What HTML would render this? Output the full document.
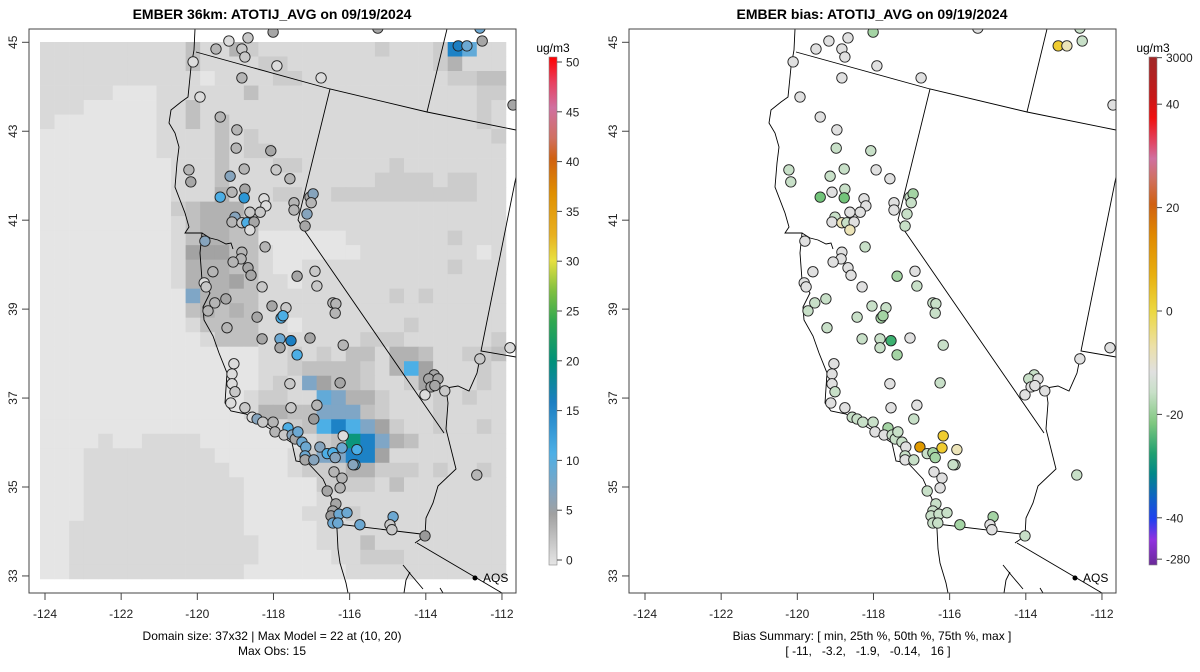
<!DOCTYPE html>
<html><head><meta charset="utf-8"><style>
body{margin:0;background:#fff}
svg{display:block;font-family:"Liberation Sans",Arial,sans-serif}
</style></head><body>
<svg id="chart" width="1200" height="672" viewBox="0 0 1200 672" xmlns="http://www.w3.org/2000/svg"></svg>
<script>
// ---- data ----
const gridRows = [
"11111111113114211111111211129711",
"11111111113111122111111111124111",
"11111111111011112211111111112233",
"11111000111111311111111111111122",
"11100000113111111111111111111121",
"10000000113131111111111111111121",
"00000000111131211111111111111112",
"00000000111131221111111111111111",
"00000000011131112211111121111111",
"00000000011131111111111222212211",
"00000000011141112211222222222211",
"00000000023444111111111111111111",
"00000000013443311111111111111111",
"00000000013443300000011111112111",
"00000000015553310000001111111101",
"00000000014443310011111111112111",
"00000000014445311011111111111111",
"00000000006443311111111121211111",
"00000000003434311111111111111111",
"00000000001333311011111112111111",
"00000000000133311111112221111112",
"00000000000000011212133144311223",
"00000000000000011233332148511121",
"00000000000000012165332112511121",
"00000000000000122117644211121211",
"00000000000000144336663211121111",
"00000000000000001238986521121121",
"000010011110000000123a9643111111",
"00011111111100000126699511111111",
"00011111111110000122244222121121",
"00011111111111000002222131111111",
"00011111111111000001111111111111",
"00011111111111000011121111111111",
"00111111111111000001111111111111",
"00111111111111100001113111111111",
"00111111111111100000112221111111",
"00111111111111000000011111111111"];
const stationLon = [-118.01,-115.26,-112.58,-119.17,-118.67,-119.51,-118.83,-118.75,-117.91,-116.75,-118.83,-120.11,-113.15,-112.92,-112.52,-111.71,-119.93,-119.40,-118.96,-118.98,-118.07,-120.22,-120.17,-119.14,-118.77,-117.93,-117.57,-119.40,-119.09,-118.75,-118.77,-118.25,-118.20,-118.35,-118.62,-119.01,-119.09,-118.83,-118.70,-118.51,-118.62,-117.46,-117.46,-117.04,-116.96,-117.01,-117.12,-117.17,-119.80,-118.83,-118.85,-119.06,-118.22,-118.67,-118.59,-119.59,-119.82,-119.77,-118.30,-117.38,-116.91,-116.86,-119.25,-119.54,-119.72,-118.04,-117.67,-116.44,-116.36,-116.38,-117.80,-117.75,-118.43,-119.22,-118.30,-117.83,-117.83,-117.54,-117.04,-116.17,-117.38,-111.79,-112.58,-119.04,-119.09,-119.09,-119.01,-119.12,-118.75,-117.57,-116.25,-117.54,-116.86,-116.94,-118.56,-118.43,-118.28,-118.01,-117.96,-117.62,-117.72,-117.51,-117.43,-117.36,-117.25,-117.15,-117.17,-117.17,-116.94,-116.78,-116.17,-116.20,-115.81,-116.59,-116.44,-116.38,-115.86,-115.91,-116.41,-116.20,-116.25,-116.59,-116.36,-116.44,-116.49,-116.28,-116.07,-116.44,-116.31,-115.73,-114.86,-114.94,-114.89,-114.02,-112.66,-114.02,-113.78,-113.92,-113.68,-113.86,-113.76,-113.50];
const stationLat = [45.23,45.32,45.32,45.03,45.10,44.85,44.85,44.67,44.47,44.20,44.20,44.56,44.92,44.92,45.03,43.59,43.77,43.32,43.03,42.62,42.56,42.13,41.86,41.99,42.15,42.13,41.93,41.52,41.63,41.70,41.50,41.48,41.32,41.18,41.18,41.07,40.96,40.94,40.94,40.96,40.78,41.39,41.23,41.52,41.59,41.39,41.14,40.87,40.53,40.28,40.13,40.06,40.40,39.93,39.76,39.84,39.59,39.50,39.50,39.74,39.85,39.52,39.23,39.14,38.96,39.07,39.03,39.14,39.12,38.91,38.80,38.85,38.82,38.58,38.33,38.33,38.13,38.29,38.35,38.19,37.97,38.13,37.88,37.77,37.54,37.32,37.14,36.89,36.78,37.32,37.34,36.78,36.84,36.53,36.57,36.53,36.46,36.46,36.24,36.33,36.17,36.17,36.08,36.24,36.01,35.90,35.70,35.61,35.61,35.90,36.15,35.88,35.84,35.75,35.77,35.66,35.50,35.50,35.34,35.20,34.98,34.91,34.62,34.46,34.35,34.39,34.42,34.19,34.19,34.15,34.33,34.15,34.04,33.90,35.27,37.07,37.52,37.43,37.43,37.25,37.28,37.16];
const obsValues = [4,4,8,1,2,3,2,2,1,1,3,1,15,8,4,4,1,3,3,3,4,3,4,7,3,2,3,12,3,4,13,1,1,2,2,7,3,2,12,4,1,3,3,4,6,3,7,4,6,3,3,3,3,4,4,3,1,2,2,4,2,2,4,3,3,4,2,3,3,3,12,11,4,3,4,8,4,15,4,3,12,1,2,1,1,1,2,1,2,2,4,2,3,5,1,7,2,3,3,10,2,7,4,9,9,8,8,4,6,6,1,8,10,10,10,7,10,6,3,3,3,4,4,4,5,8,8,8,8,8,8,2,2,5,3,1,4,4,4,4,4,2];
const biasValues = [-4,0,-3,0,0,0,0,0,0,0,0,0,12,3,-2,0,0,-1,0,-2,-2,-2,-3,-2,-2,-1,-1,-7,-1,-2,-8,-1,-1,-1,-1,-2,-1,3,-3,-1,4,-1,-1,-2,-4,-2,-2,-2,-1,-1,-1,-1,-2,-1,-1,-1,-1,-1,-1,-5,-1,-2,-2,-2,-2,-2,-2,-2,-2,-2,-6,-5,-2,-2,-2,-2,-3,-11,-1,-2,-6,-1,-1,-1,-1,-1,-2,-1,-1,-1,-2,-1,-1,-3,-2,-3,-2,-2,-1,-4,-1,-2,-2,-2,-2,-1,-2,-1,-3,16,12,12,3,-3,-4,-4,-3,-2,-1,-1,-1,-3,-3,-3,-3,-3,-3,-3,-3,-4,-4,-1,-1,-3,-2,-1,-2,-2,-1,2,-1,-1];
const lonTicks = [-124,-122,-120,-118,-116,-114,-112];
const latTicks = [45,43,41,39,37,35,33];
const obsTicks = [0,5,10,15,20,25,30,35,40,45,50];
const biasTickLabels = ["3000","40","20","0","-20","-40","-280"];
const biasTickVals = [49,40,20,0,-20,-40,-48];

// ---- helpers ----
const NS="http://www.w3.org/2000/svg";
const svg=document.getElementById('chart');
function mk(tag,attrs,parent){const e=document.createElementNS(NS,tag);for(const k in attrs)e.setAttribute(k,attrs[k]);(parent||svg).appendChild(e);return e;}
function xScale(lon){return 45+(lon+124)*38.08;}
function yScale(lat){return 42.3+(45-lat)*44.47;}
const gridColors={"0":"#e5e5e5","1":"#d9d9d9","2":"#cccccc","3":"#c0c0c0","4":"#b2b2b2","5":"#a3a3a3","6":"#7fa6c6","7":"#62aad8","8":"#4cafe6","9":"#1d82c6","a":"#0b967c"};
function obsColor(v){
 if(v<=1.5)return"#dcdcdc";if(v<=2.5)return"#c8c8c8";if(v<=3.5)return"#b5b5b5";if(v<=4.5)return"#a6a6a6";if(v<=5.5)return"#9a9a9a";
 if(v<=7.5)return"#86a4bd";if(v<=9.5)return"#6ca8d2";if(v<=12.5)return"#4caee5";if(v<=14.5)return"#2c97d6";if(v<=17.5)return"#1b7ec2";if(v<=21)return"#0a8f8a";return"#10a060";}
function biasColor(b){
 if(b>=15)return"#e09a00";if(b>=8)return"#f0cc30";if(b>=2.5)return"#ece4b8";if(b>-1.5)return"#e0e0e0";
 if(b>-3.5)return"#c8e0c8";if(b>-6.5)return"#a4d4a4";if(b>-9.5)return"#72c47a";return"#3cb070";}

function panel(ox,isBias){
 const g=mk('g',{transform:`translate(${ox},0)`});
 
 
 if(!isBias){
  const gg=mk('g',{},g);
  
  
  gridRows.forEach((row,r)=>{for(let c=0;c<32;c++){const ch=row[c]||'1';
   const cell=mk('rect',{x:(40+c*14.56).toFixed(2),y:(42+r*14.51).toFixed(2),width:14.9,height:14.9,fill:gridColors[ch]},gg);
   
   }});
 }
 const lines=mk('g',{fill:'none',stroke:'#000','stroke-width':0.9},g);
 
 
 const paths=[
  "M195,29 L194,50 191,67 188,97 181,102 171,110 169,123 175,133 179,147 177,163 175,187 185,213 189,227 185,233 202,233 200,253 202,280 210,293 203,307 204,320 213,336 219,353 227,373 225,403 231,411 246,414 262,424 277,433 292,443 296,461 308,463 323,479 332,499 331,518 337,529 338,549 340,563 346,583 348,593",
  "M202,233 L210,238 218,240 226,244 231,243 233,249",
  "M196,52 L330,89 427,112 516,130",
  "M330,89 L298,220 L304,230 L444,433",
  "M447,29 L427,112",
  "M516,177 L484,336 L481,351 L516,357",
  "M481,353 L477,373 469,391 458,386 446,388 448,403 446,429 452,453 456,469 438,486 433,503 426,518 425,536 415,543",
  "M337,524 L421,534",
  "M417,543 L502,593",
  "M403,565 L412,576 L423,589 M404,593 L406,580 L410,572 M440,588 L443,593"];
 paths.forEach(d=>{const p=mk('path',{d},lines);});
 const sg=mk('g',{},g);
 
 
 stationLon.forEach((lon,i)=>{
  const c=mk('circle',{cx:xScale(lon).toFixed(1),cy:yScale(stationLat[i]).toFixed(1),r:5.2,fill:isBias?biasColor(biasValues[i]):obsColor(obsValues[i]),stroke:'#222','stroke-width':0.9},sg);
  
  
 });
 const frame=mk('path',{d:"M0,0 H600 V672 H0 Z M29,29 V593 H516 V29 Z",fill:'#fff','fill-rule':'evenodd'},g);
 
 
 const box=mk('rect',{x:29,y:29,width:487,height:564,fill:'none',stroke:'#444','stroke-width':1},g);
 
 
 const aqs=mk('circle',{cx:475,cy:578,r:2.5,fill:'#000'},g);
 
 
 const at=mk('text',{x:483,y:582,'font-size':12},g);at.textContent='AQS';
 
 
 lonTicks.forEach(v=>{const x=xScale(v);
  const t=mk('line',{x1:x,x2:x,y1:593,y2:600,stroke:'#444'},g);
  
  const l=mk('text',{x:x,y:618,'font-size':12,'text-anchor':'middle',fill:'#222'},g);l.textContent=v;
  });
 latTicks.forEach(v=>{const y=yScale(v);
  const t=mk('line',{x1:22,x2:29,y1:y,y2:y,stroke:'#444'},g);
  
  const l=mk('text',{x:0,y:0,'font-size':12,'text-anchor':'middle',fill:'#222',transform:`translate(17,${y}) rotate(-90)`},g);l.textContent=v;
  });
 const tt=mk('text',{x:272,y:19,'font-size':14,'font-weight':'bold','text-anchor':'middle'},g);
 tt.textContent=isBias?'EMBER bias: ATOTIJ_AVG on 09/19/2024':'EMBER 36km: ATOTIJ_AVG on 09/19/2024';
 
 const s1=mk('text',{x:272,y:640,'font-size':12,'text-anchor':'middle'},g);
 s1.textContent=isBias?'Bias Summary: [ min, 25th %, 50th %, 75th %, max ]':'Domain size: 37x32 | Max Model = 22 at (10, 20)';
 
 const s2=mk('text',{x:isBias?268:272,y:655,'font-size':12,'text-anchor':'middle',style:'white-space:pre'},g);
 s2.textContent=isBias?'[ -11,   -3.2,   -1.9,   -0.14,   16 ]':'Max Obs: 15';
 
 const cb=mk('g',{},g);
 
 
 const gid=isBias?'gb':'go';
 const defs=mk('defs',{},cb);
 const lg=mk('linearGradient',{id:gid,x1:0,y1:0,x2:0,y2:1},defs);
 const stops=isBias?[[0,'#a02828'],[0.08,'#c81818'],[0.12,'#f01010'],[0.17,'#e04868'],[0.2,'#d070a0'],[0.24,'#d07060'],[0.29,'#d06010'],[0.35,'#e08800'],[0.43,'#e8b010'],[0.5,'#ecd840'],[0.57,'#ece0a8'],[0.62,'#e0e0e0'],[0.66,'#c8e0c8'],[0.72,'#80c880'],[0.78,'#20a070'],[0.82,'#008888'],[0.87,'#1060c8'],[0.91,'#2040f0'],[0.95,'#9030e0'],[1,'#6a2a98']]
  :[[0,'#ff0000'],[0.05,'#e84060'],[0.1,'#d070a0'],[0.16,'#d07060'],[0.2,'#d06010'],[0.27,'#e09000'],[0.35,'#e8b020'],[0.4,'#e8e040'],[0.46,'#80c040'],[0.52,'#30a850'],[0.6,'#00907a'],[0.68,'#1b7ec2'],[0.78,'#4cafe6'],[0.86,'#86a4bd'],[0.9,'#a0a0a0'],[1,'#e6e6e6']];
 stops.forEach(s=>mk('stop',{offset:s[0],'stop-color':s[1]},lg));
 const bar=mk('rect',{x:549,y:57,width:8,height:508,fill:`url(#${gid})`,stroke:'#888','stroke-width':0.6},cb);
 
 const ut=mk('text',{x:553,y:52,'font-size':12,'text-anchor':'middle'},cb);ut.textContent='ug/m3';
 
 const labels=isBias?biasTickLabels:obsTicks.map(String);
 const vals=isBias?biasTickVals:obsTicks;
 labels.forEach((lab,i)=>{const y=isBias?311-vals[i]*5.17:560-vals[i]*9.96;
  const t=mk('line',{x1:557,x2:562,y1:y,y2:y,stroke:'#444'},cb);
  
  const l=mk('text',{x:566,y:y+4.5,'font-size':12,fill:'#222'},cb);l.textContent=lab;
  });
}
panel(0,false);
panel(600,true);
</script>
</body></html>
